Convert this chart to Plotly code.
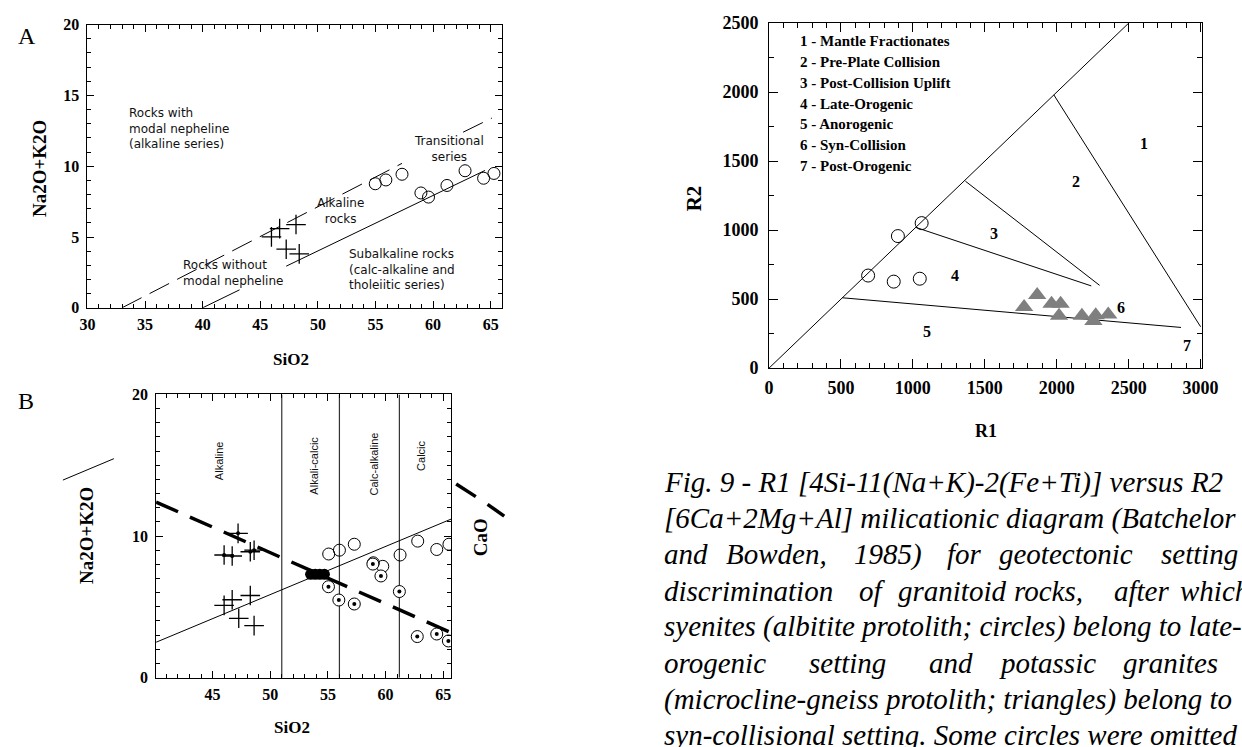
import plotly.graph_objects as go

W, H = 1242, 747
SERIF = "Liberation Serif, Times New Roman, serif"
SANS = "DejaVu Sans"

# ---------------- Panel A data (TAS) ----------------
a_cross_x = [45.97, 46.68, 48.1, 47.25, 48.38]
a_cross_y = [5.01, 5.59, 5.88, 4.14, 3.81]
a_circ_x = [54.98, 55.9, 57.3, 58.94, 59.6, 61.2, 62.77, 64.38, 65.28]
a_circ_y = [8.76, 9.03, 9.43, 8.11, 7.82, 8.64, 9.68, 9.15, 9.49]
a_upper_x = [33.0, 57.3, None, 62.6, 65.1]
a_upper_y = [0.0, 10.2, None, 12.4, 13.4]
a_lower_x = [40.0, 43.2, None, 47.25, 64.5]
a_lower_y = [0.0, 1.27, None, 2.94, 9.7]

# ---------------- Panel B data (MALI) ----------------
b_cross_x = [46.0, 46.7, 48.27, 47.27, 48.6]
b_cross_y = [5.1, 5.5, 5.8, 4.19, 3.67]
b_crossdot_x = [46.0, 46.7, 47.21, 48.27, 48.6]
b_crossdot_y = [8.66, 8.59, 10.19, 8.89, 9.0]
b_circ_x = [55.07, 56.0, 57.29, 58.94, 59.76, 61.26, 62.79, 64.44, 65.5]
b_circ_y = [8.73, 9.0, 9.42, 8.11, 7.86, 8.66, 9.64, 9.05, 9.42]
b_circdot_x = [55.05, 55.95, 57.29, 58.9, 59.6, 61.2, 62.75, 64.44, 65.45]
b_circdot_y = [6.42, 5.48, 5.2, 8.02, 7.18, 6.08, 2.9, 3.08, 2.59]
b_blob_x = [53.5, 53.9, 54.3, 54.7]
b_blob_y = [7.3, 7.3, 7.3, 7.3]
b_solid_x = [40.1, 65.7]
b_solid_y = [2.5, 11.2]
b_dash_x = [40.1, 65.6]
b_dash_y = [12.4, 3.2]
b_bounds = [51.0, 56.0, 61.2]
b_cols = ["Alkaline", "Alkali-calcic", "Calc-alkaline", "Calcic"]
b_cols_x = [45.57, 53.83, 59.0, 63.09]
b_cols_y = [15.3, 15.0, 15.05, 15.67]

# ---------------- Panel C data (R1-R2) ----------------
c_circ_x = [689, 896, 1061, 867, 1048]
c_circ_y = [671, 957, 1051, 627, 648]
c_tri_x = [1773, 1864, 1964, 2027, 2016, 2175, 2255, 2271, 2358]
c_tri_y = [443, 530, 467, 467, 380, 380, 342, 384, 389]
c_lines = [
    ([0, 2500], [0, 2500]),
    ([1980, 3000], [1980, 300]),
    ([1365, 2298], [1355, 600]),
    ([1020, 2240], [1020, 596]),
    ([510, 2864], [510, 295]),
]
c_field_labels = ["1", "2", "3", "4", "5", "6", "7"]
c_field_x = [2607, 2135, 1567, 1292, 1100, 2450, 2908]
c_field_y = [1626, 1355, 973, 672, 266, 443, 167]
c_legend = ["1 - Mantle Fractionates", "2 - Pre-Plate Collision",
            "3 - Post-Collision Uplift", "4 - Late-Orogenic",
            "5 - Anorogenic", "6 - Syn-Collision", "7 - Post-Orogenic"]
c_legend_y = [2370, 2221, 2068, 1915, 1770, 1617, 1464]

# caption: each line as a list of (word-group, left pixel) pieces (justified lines are split)
caption = [
    [("Fig. 9 - R1 [4Si-11(Na+K)-2(Fe+Ti)] versus R2", 667)],
    [("[6Ca+2Mg+Al] milicationic diagram (Batchelor", 667)],
    [("and", 667), ("Bowden,", 730), ("1985)", 861), ("for", 955), ("geotectonic", 1008), ("setting", 1174)],
    [("discrimination", 667), ("of", 866), ("granitoid", 905), ("rocks,", 1024), ("after", 1126), ("which", 1193)],
    [("syenites (albitite protolith; circles) belong to late-", 667)],
    [("orogenic", 667), ("setting", 815), ("and", 937), ("potassic", 1008), ("granites", 1135)],
    [("(microcline-gneiss protolith; triangles) belong to", 667)],
    [("syn-collisional setting. Some circles were omitted", 667)],
]


def px(x):
    return x / W


def py(y):
    return 1 - y / H


fig = go.Figure()

# ---- Panel A traces
fig.add_trace(go.Scatter(x=a_upper_x, y=a_upper_y, mode="lines", xaxis="x", yaxis="y",
                         line=dict(color="black", width=1, dash="22px,9px"), hoverinfo="skip"))
fig.add_trace(go.Scatter(x=a_lower_x, y=a_lower_y, mode="lines", xaxis="x", yaxis="y",
                         line=dict(color="black", width=1), hoverinfo="skip"))
fig.add_trace(go.Scatter(x=a_cross_x, y=a_cross_y, mode="markers", xaxis="x", yaxis="y",
                         marker=dict(symbol="cross-thin-open", size=14, color="black",
                                     line=dict(color="black", width=1.3))))
fig.add_trace(go.Scatter(x=a_circ_x, y=a_circ_y, mode="markers", xaxis="x", yaxis="y",
                         marker=dict(symbol="circle-open", size=12, color="black", line=dict(color="black", width=1))))

# ---- Panel B traces
for bx in b_bounds:
    fig.add_trace(go.Scatter(x=[bx, bx], y=[0, 20], mode="lines", xaxis="x2", yaxis="y2",
                             line=dict(color="#333", width=1.2), hoverinfo="skip"))
fig.add_trace(go.Scatter(x=b_solid_x, y=b_solid_y, mode="lines", xaxis="x2", yaxis="y2",
                         line=dict(color="black", width=1), hoverinfo="skip"))
fig.add_trace(go.Scatter(x=b_dash_x, y=b_dash_y, mode="lines", xaxis="x2", yaxis="y2",
                         line=dict(color="black", width=3.5, dash="24px,13px"), hoverinfo="skip"))
fig.add_trace(go.Scatter(x=b_blob_x, y=b_blob_y, mode="markers", xaxis="x2", yaxis="y2",
                         marker=dict(symbol="circle", size=11, color="black")))
fig.add_trace(go.Scatter(x=b_cross_x, y=b_cross_y, mode="markers", xaxis="x2", yaxis="y2",
                         marker=dict(symbol="cross-thin-open", size=14, color="black",
                                     line=dict(color="black", width=1.3))))
fig.add_trace(go.Scatter(x=b_crossdot_x, y=b_crossdot_y, mode="markers", xaxis="x2", yaxis="y2",
                         marker=dict(symbol="cross-thin-open", size=14, color="black",
                                     line=dict(color="black", width=1.3))))
fig.add_trace(go.Scatter(x=b_crossdot_x, y=b_crossdot_y, mode="markers", xaxis="x2", yaxis="y2",
                         marker=dict(symbol="circle", size=4, color="black")))
fig.add_trace(go.Scatter(x=b_circ_x, y=b_circ_y, mode="markers", xaxis="x2", yaxis="y2",
                         marker=dict(symbol="circle-open", size=12, color="black", line=dict(color="black", width=1))))
fig.add_trace(go.Scatter(x=b_circdot_x, y=b_circdot_y, mode="markers", xaxis="x2", yaxis="y2",
                         marker=dict(symbol="circle", size=12, color="white", line=dict(color="black", width=1))))
fig.add_trace(go.Scatter(x=b_circdot_x, y=b_circdot_y, mode="markers", xaxis="x2", yaxis="y2",
                         marker=dict(symbol="circle", size=4, color="black")))

# ---- Panel C traces
for lx, ly in c_lines:
    fig.add_trace(go.Scatter(x=lx, y=ly, mode="lines", xaxis="x3", yaxis="y3",
                             line=dict(color="black", width=1), hoverinfo="skip"))
fig.add_trace(go.Scatter(x=c_circ_x, y=c_circ_y, mode="markers", xaxis="x3", yaxis="y3",
                         marker=dict(symbol="circle-open", size=13, color="black", line=dict(color="black", width=1))))
fig.add_trace(go.Scatter(x=c_tri_x, y=c_tri_y, mode="markers", xaxis="x3", yaxis="y3",
                         marker=dict(symbol="triangle-up", size=16, color="#7f7f7f", line=dict(width=0))))


def axis(dom, rng, tick0, dtick, minor_dtick, size=16, anchor=None, ticklen=7, mticklen=4,
         standoff=0):
    d = dict(domain=dom, range=rng, showline=True, linecolor="black", linewidth=1,
             mirror="allticks", ticks="inside", ticklen=ticklen, tickwidth=1, tickcolor="black",
             showgrid=False, zeroline=False, tickmode="linear", tick0=tick0, dtick=dtick,
             tickfont=dict(family=SERIF, size=size, color="black", weight="bold"),
             ticklabelstandoff=standoff,
             minor=dict(ticks="inside", ticklen=mticklen, tick0=tick0, dtick=minor_dtick,
                        tickcolor="black", tickwidth=1, showgrid=False),
             fixedrange=True)
    if anchor:
        d["anchor"] = anchor
    return d


fig.update_layout(
    width=W, height=H, autosize=False,
    margin=dict(l=0, r=0, t=0, b=0),
    paper_bgcolor="white", plot_bgcolor="white",
    showlegend=False,
    xaxis=axis([px(81), px(504)], [30, 66], 30, 5, 1, anchor="y", standoff=2),
    yaxis=axis([py(306), py(15)], [0, 20], 0, 5, 1, anchor="x", standoff=4),
    xaxis2=axis([px(151), px(452)], [40.1, 65.7], 45, 5, 1, anchor="y2", standoff=2),
    yaxis2=axis([py(686), py(395)], [0, 20], 0, 10, 1, anchor="x2", standoff=4),
    xaxis3=axis([px(776), px(1218)], [0, 3013], 0, 500, 100, size=18, anchor="y3",
                ticklen=9, mticklen=5, standoff=3),
    yaxis3=axis([py(368), py(13.5)], [0, 2500], 0, 500, 250, size=18, anchor="x3",
                ticklen=9, mticklen=5, standoff=6),
)

ann = []


def add_paper(text, x, y, size, bold=True, angle=0, family=SERIF, xanchor="center"):
    ann.append(dict(text=text, x=px(x), y=py(y), xref="paper", yref="paper", showarrow=False,
                    xanchor=xanchor, yanchor="middle", textangle=angle,
                    font=dict(family=family, size=size, color="black",
                              weight="bold" if bold else "normal")))


add_paper("A", 19, 27, 24, bold=False)
add_paper("B", 18, 402, 24, bold=False)
add_paper("Na2O+K2O", 32, 163, 19, angle=-90)
add_paper("SiO2", 289, 359, 17)
add_paper("Na2O+K2O", 80, 540, 19, angle=-90)
add_paper("CaO", 482, 542, 19, angle=-90)
add_paper("SiO2", 290, 737, 17)
add_paper("R2", 699, 193, 21, angle=-90)
add_paper("R1", 997, 433, 18)

# Panel A region labels
a_txt = [
    ("Rocks with<br>modal nepheline<br>(alkaline series)", 33.4, 12.65, "left"),
    ("Transitional<br>series", 61.4, 11.2, "center"),
    ("Alkaline<br>rocks", 52.0, 6.87, "center"),
    ("Rocks without<br>modal nepheline", 38.1, 2.44, "left"),
    ("Subalkaline rocks<br>(calc-alkaline and<br>tholeiitic series)", 52.5, 2.68, "left"),
]
for t, x, y, al in a_txt:
    ann.append(dict(text=t, x=x, y=y, xref="x", yref="y", showarrow=False, xanchor=al,
                    align=al, yanchor="middle",
                    font=dict(family=SANS, size=12, color="#111")))

for t, x, y in zip(b_cols, b_cols_x, b_cols_y):
    ann.append(dict(text=t, x=x, y=y, xref="x2", yref="y2", showarrow=False, textangle=-90,
                    font=dict(family="Liberation Sans", size=11, color="#111")))

for t, x, y in zip(c_field_labels, c_field_x, c_field_y):
    ann.append(dict(text=t, x=x, y=y, xref="x3", yref="y3", showarrow=False,
                    font=dict(family=SERIF, size=16, color="black", weight="bold")))
for t, y in zip(c_legend, c_legend_y):
    ann.append(dict(text=t, x=202, y=y, xref="x3", yref="y3", showarrow=False, xanchor="left",
                    font=dict(family=SERIF, size=15, color="black", weight="bold")))

for i, pieces in enumerate(caption):
    base = 495 + 37.2 * i
    for t, x0 in pieces:
        ann.append(dict(text="<i>" + t + "</i>", x=px(x0), y=py(base - 10), xref="paper", yref="paper",
                        showarrow=False, xanchor="left", yanchor="middle",
                        font=dict(family="Liberation Serif", size=29, color="black")))

fig.update_layout(annotations=ann)

# decorative stray strokes beside panel B (paper pixels)
b_strokes = [((56, 483), (108, 461), 1), ((457, 487), (477, 500), 3.5), ((489, 508), (506, 520), 3.5)]
for (x0, y0), (x1, y1), w in b_strokes:
    fig.add_shape(type="line", xref="paper", yref="paper", x0=px(x0), y0=py(y0), x1=px(x1), y1=py(y1),
                  line=dict(color="black", width=w))

post = ("document.documentElement.style.margin='0';document.body.style.margin='0';"
        "document.body.style.overflow='hidden';"
        "var d=document.getElementById('{plot_id}');d.style.position='fixed';"
        "d.style.left='0px';d.style.top='0px';")
fig.write_html("out.html", config={"displayModeBar": False}, post_script=post)
